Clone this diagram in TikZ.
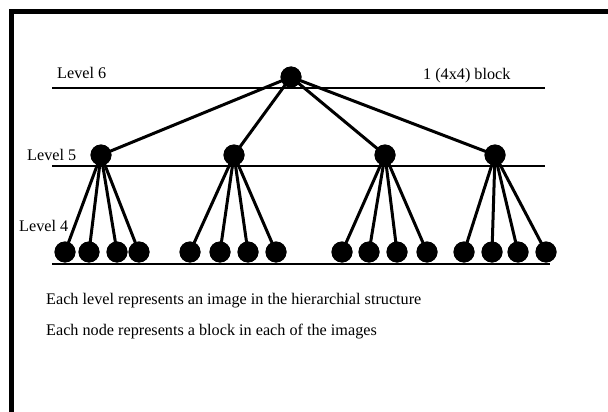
\documentclass[tikz,border=0pt]{standalone}
\usepackage{fontspec}
\setmainfont{Liberation Serif}
\begin{document}
\begin{tikzpicture}[x=1pt,y=-1pt,
  blk/.style={circle,fill=black,draw=none,minimum size=21pt,inner sep=0pt},
  lvl/.style={line width=2.6pt},
  edge/.style={line width=3pt},
  lbl/.style={inner sep=0pt,anchor=base west,font=\fontsize{16.2}{19}\selectfont}]
\useasboundingbox (0,0) rectangle (608,412);
% frame (top and left sides)
\draw[line width=5pt] (11.5,412) -- (11.5,11.5) -- (610,11.5);

% level lines
\coordinate (l6a) at (52,88);  \coordinate (l6b) at (545,88);
\coordinate (l5a) at (52,166); \coordinate (l5b) at (545,166);
\coordinate (l4a) at (52,264); \coordinate (l4b) at (550,264);
\draw[lvl] (l6a) -- (l6b);
\draw[lvl] (l5a) -- (l5b);
\draw[lvl] (l4a) -- (l4b);

% labels
\node[lbl] (t6) at (57,79) {Level 6};
\node[lbl] (t5) at (27,160) {Level 5};
\node[lbl] (t4) at (19,231) {Level 4};
\node[lbl] (tb) at (423,80) {1 (4x4) block};
\node[lbl] (n1) at (46,304) {Each level represents an image in the hierarchial structure};
\node[lbl] (n2) at (46,335) {Each node represents a block in each of the images};

% tree nodes
\node[blk] (r) at (291,77) {};
\node[blk] (a) at (101,155) {};
\node[blk] (b) at (234,155) {};
\node[blk] (c) at (385,155) {};
\node[blk] (d) at (495,155) {};
\foreach \n/\x in {a1/65,a2/89,a3/117,a4/139,
                   b1/190,b2/220,b3/248,b4/276,
                   c1/342,c2/369,c3/397,c4/427,
                   d1/464,d2/492,d3/518,d4/546}
  \node[blk] (\n) at (\x,252) {};

% connectors
\foreach \p in {a,b,c,d}
  \draw[edge] (r.center) -- (\p.center);
\foreach \p in {a,b,c,d}
  \foreach \i in {1,2,3,4}
    \draw[edge] (\p.center) -- (\p\i.center);

% redraw discs on top of the connectors
\foreach \n in {r,a,b,c,d}
  \fill (\n) circle (10.5pt);
\foreach \p in {a,b,c,d}
  \foreach \i in {1,2,3,4}
    \fill (\p\i) circle (10.5pt);
\end{tikzpicture}
\end{document}
